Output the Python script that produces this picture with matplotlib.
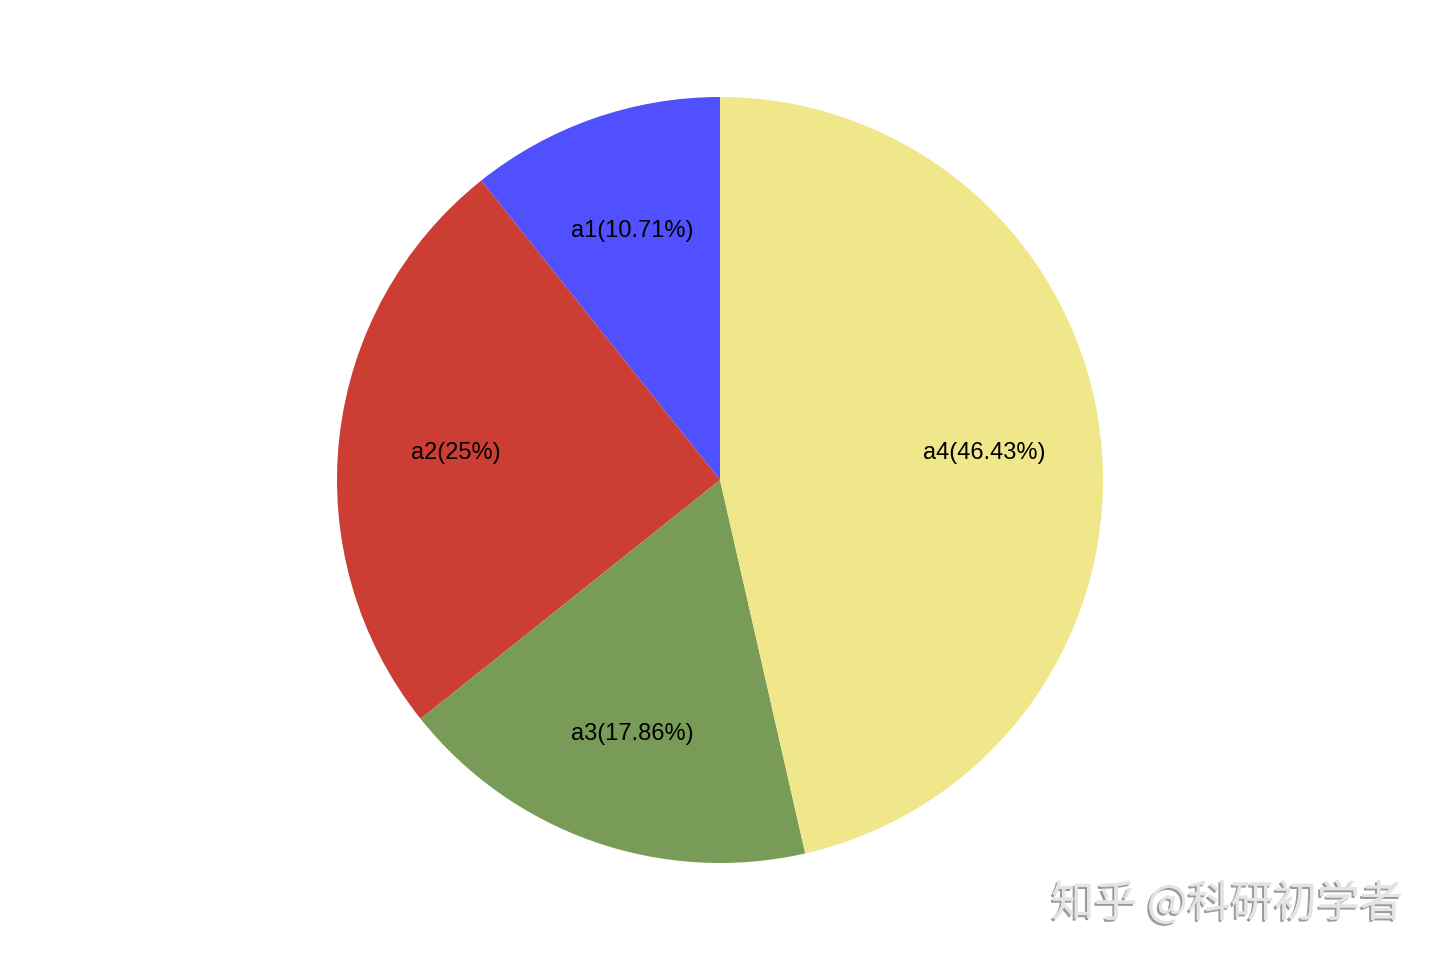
import matplotlib.pyplot as plt
import matplotlib.patheffects as pe

plt.rcParams['font.family'] = ['Liberation Sans', 'Noto Sans CJK SC', 'DejaVu Sans']

names = ['a1', 'a2', 'a3', 'a4']
values = [3, 7, 5, 13]
colors = ['#5050FF', '#CC3D33', '#789C58', '#F0E68A']

total = sum(values)
labels = [f'{n}({round(v / total * 100, 2):g}%)' for n, v in zip(names, values)]

fig = plt.figure(figsize=(14.4, 9.6), dpi=100)
ax = fig.add_axes([0, 0, 1, 1])

wedges, texts = ax.pie(values, labels=labels, colors=colors, startangle=90,
                       counterclock=True, labeldistance=0.695, radius=1,
                       center=(0, 0), textprops={'fontsize': 17, 'color': 'black'})
for t in texts:
    t.set_ha('center')
    t.set_va('center_baseline')

ax.set_aspect('equal')
# pie: center (720,480), radius ~383 px
r = 383
ax.set_xlim(-720 / r, 720 / r)
ax.set_ylim(-480 / r, 480 / r)
ax.axis('off')

fig.text(0.974, 0.058, '知乎 @科研初学者', ha='right', va='center', fontsize=31,
         color='#E4E4E4', family=['Noto Sans CJK SC', 'DejaVu Sans'],
         path_effects=[pe.withSimplePatchShadow(offset=(-1.5, -1.5), shadow_rgbFace='#909090', alpha=0.9),
                       pe.Normal()])

fig.savefig('out.png', dpi=100, facecolor='white')
